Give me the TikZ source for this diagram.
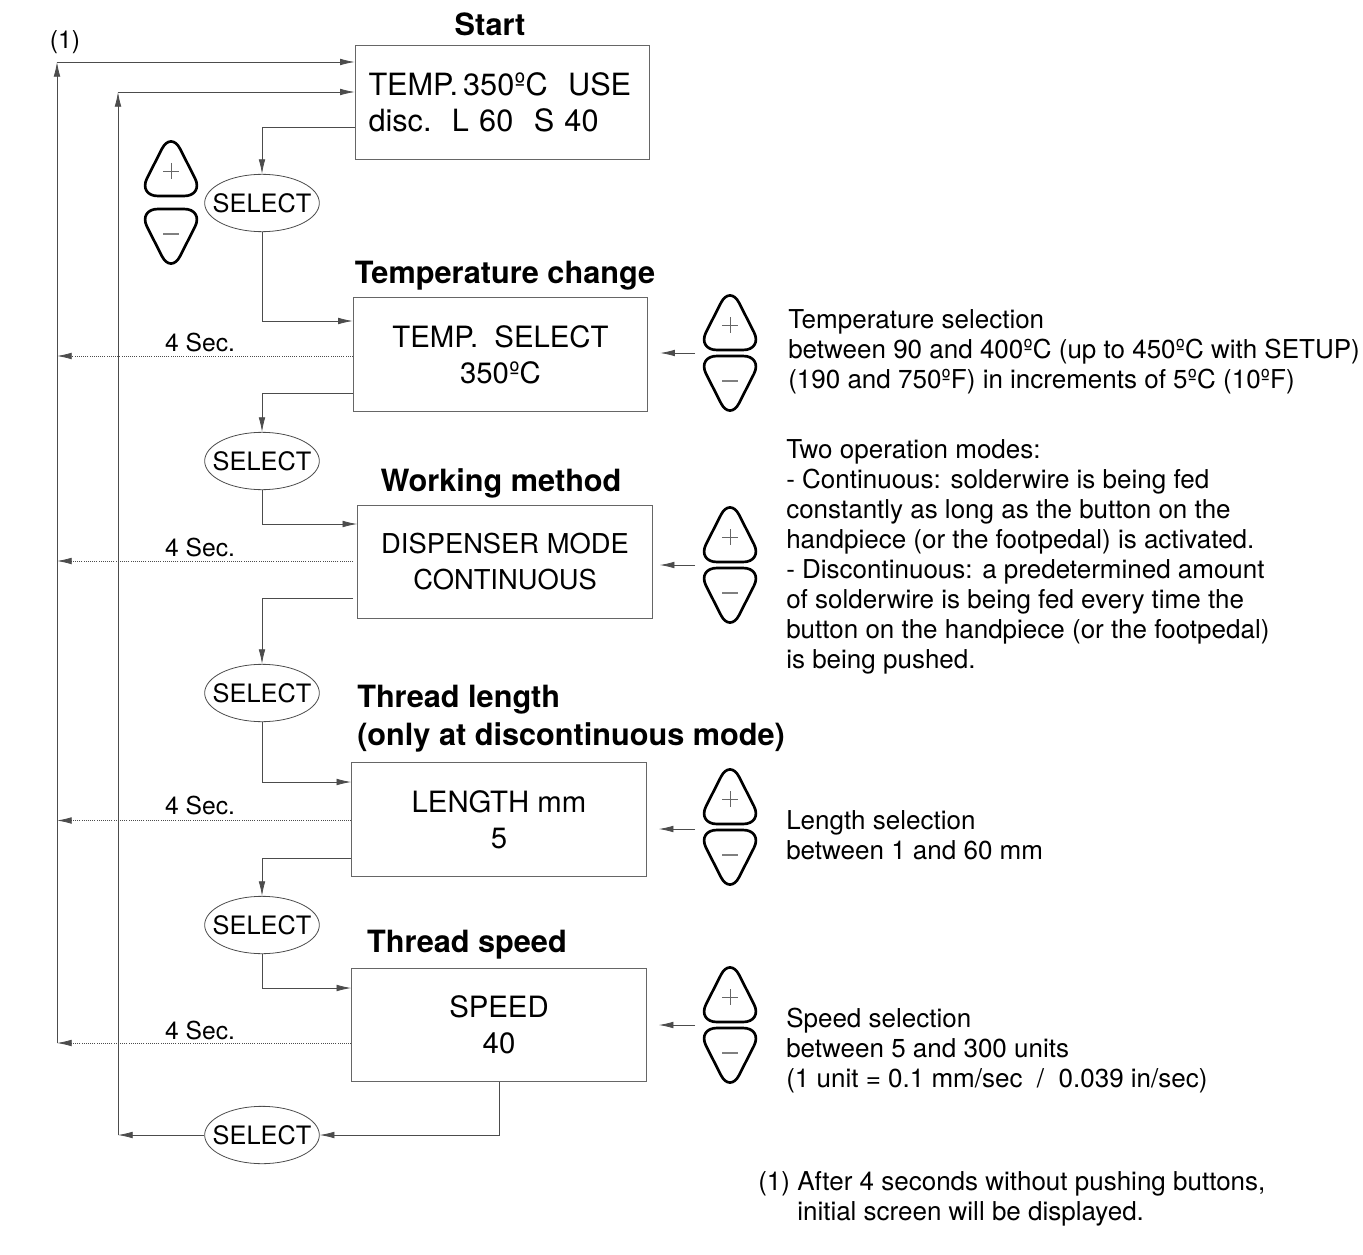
\documentclass[tikz,border=0pt]{standalone}
\usepackage{fontspec}
\setmainfont{TeX Gyre Heros}
\usetikzlibrary{shapes.geometric,arrows.meta,calc}
\begin{document}
\begin{tikzpicture}[x=0.75pt,y=-0.75pt,
  box/.style={draw=black!60,line width=0.7pt,rectangle,minimum width=221pt,minimum height=85pt,align=center,font=\fontsize{22}{27}\selectfont,inner sep=0pt},
  sel/.style={draw=black!70,line width=0.6pt,ellipse,minimum width=86pt,minimum height=43pt,inner xsep=-12pt,inner ysep=-3pt,font=\fontsize{19}{20}\selectfont},
  ttl/.style={font=\fontsize{23}{27}\selectfont\bfseries,inner sep=0pt},
  note/.style={font=\fontsize{19.5}{22.5}\selectfont,align=left,anchor=north west,inner sep=0pt},
  lab/.style={font=\fontsize{18.5}{20}\selectfont,inner sep=0pt},
  con/.style={draw=black!70,line width=0.6pt},
  arr/.style={con,-{Latex[length=11pt,width=5pt]}},
  dot/.style={arr,densely dotted},
  btnup/.pic={\draw[line width=2pt,rounded corners=15pt,fill=white] (0,-38)--(33,27)--(-33,27)--cycle;
     \draw[black!60,line width=0.5pt] (-8,2)--(8,2) (0,-6)--(0,10);},
  btndn/.pic={\draw[line width=2pt,rounded corners=15pt,fill=white] (0,38)--(33,-27)--(-33,-27)--cycle;
     \draw[black!50,line width=1.6pt] (-8,-2)--(8,-2);}
]
\useasboundingbox (0,0) rectangle (1363,1255);
% boxes
\node[box,align=left,text width=201pt,font=\fontsize{23}{27}\selectfont] (start) at (502.5,102.5) {TEMP.\,350ºC\ \ USE\\disc.\ \ L 60\ \ S 40};
\node[box] (temp) at (500.5,354.5) {TEMP.\ \ SELECT\\350ºC};
\node[box,font=\fontsize{20.5}{27}\selectfont] (work) at (505,562) {DISPENSER MODE\\CONTINUOUS};
\node[box] (len) at (499,819.5) {LENGTH mm\\5};
\node[box] (spd) at (499,1025) {SPEED\\40};
% titles
\node[ttl] at (490,24) {Start};
\node[ttl] at (505,276) {Temperature change};
\node[ttl] at (501,483) {Working method};
\node[ttl,anchor=west] at (357,700) {Thread length};
\node[ttl,anchor=west] at (357,737) {(only at discontinuous mode)};
\node[ttl] at (467,945) {Thread speed};
% select ellipses
\node[sel] (s1) at (262,203) {SELECT};
\node[sel] (s2) at (262,461) {SELECT};
\node[sel] (s3) at (262,693) {SELECT};
\node[sel] (s4) at (262,925) {SELECT};
\node[sel] (s5) at (262,1135) {SELECT};
% buttons
\pic at (171,169) {btnup}; \pic at (171,236) {btndn};
\foreach \y in {323,535,797,995} {\pic at (730,\y) {btnup}; \pic at (730,\y+60) {btndn};}
% coordinates
\coordinate (L) at (57,62);
\coordinate (M) at (118,92);
\coordinate (b1) at (695,353); \coordinate (b2) at (695,565);
\coordinate (b3) at (695,829); \coordinate (b4) at (695,1025);
\coordinate (a1) at ($(start.west)+(0,24.5)$);
\coordinate (a2) at ($(temp.west)+(0,-33.5)$);
\coordinate (a3) at ($(temp.west)+(0,38.5)$);
\coordinate (a4) at ($(work.west)+(0,-38)$);
\coordinate (a5) at ($(work.west)+(-4,36)$);
\coordinate (a6) at ($(len.west)+(0,-37.5)$);
\coordinate (a7) at ($(len.west)+(0,38.5)$);
\coordinate (a8) at ($(spd.west)+(0,-37)$);
\coordinate (d1) at ($(temp.west)+(0,1.5)$);
\coordinate (d2) at ($(work.west)+(-4,-1)$);
\coordinate (d3) at ($(len.west)+(0,1)$);
\coordinate (d4) at ($(spd.west)+(0,18)$);
\coordinate (e1) at ($(b1 -| temp.east)+(12,0)$);
\coordinate (e2) at ($(b2 -| work.east)+(7,0)$);
\coordinate (e3) at ($(b3 -| len.east)+(12,0)$);
\coordinate (e4) at ($(b4 -| spd.east)+(12,0)$);
% select chain
\draw[arr] (a1) -| (s1.north);
\draw[arr] (s1.south) |- (a2);
\draw[arr] (a3) -| (s2.north);
\draw[arr] (s2.south) |- (a4);
\draw[arr] (a5) -| (s3.north);
\draw[arr] (s3.south) |- (a6);
\draw[arr] (a7) -| (s4.north);
\draw[arr] (s4.south) |- (a8);
\draw[arr] (spd.south) |- (s5.east);
\draw[arr] (s5.west) -- (s5.west -| M);
\draw[arr] (s5.west -| M) -- (M);
\draw[arr] (M) -- (M -| start.west);
% timeout loop
\draw[arr] (d4 -| L) -- (L);
\draw[arr] (L) -- (L -| start.west);
\node[lab] at (65,42) {(1)};
\foreach \d in {d1,d2,d3,d4} \draw[dot] (\d) -- (\d -| L);
\node[lab] at (200,343) {4 Sec.};
\node[lab] at (200,548) {4 Sec.};
\node[lab] at (200,806) {4 Sec.};
\node[lab] at (200,1030) {4 Sec.};
% button arrows
\draw[arr] (b1) -- (e1);
\draw[arr] (b2) -- (e2);
\draw[arr] (b3) -- (e3);
\draw[arr] (b4) -- (e4);
% notes
\node[note] at (788,309) {Temperature selection\\between 90 and 400ºC (up to 450ºC with SETUP)\\(190 and 750ºF) in increments of 5ºC (10ºF)};
\node[note] at (786,439) {Two operation modes:\\- Continuous: solderwire is being fed\\constantly as long as the button on the\\handpiece (or the footpedal) is activated.\\- Discontinuous: a predetermined amount\\of solderwire is being fed every time the\\button on the handpiece (or the footpedal)\\is being pushed.};
\node[note] at (786,810) {Length selection\\between 1 and 60 mm};
\node[note] at (786,1008) {Speed selection\\between 5 and 300 units\\(1 unit = 0.1 mm/sec\ \ /\ \ 0.039 in/sec)};
\node[note] at (758,1171) {(1) After 4 seconds without pushing buttons,\\\phantom{(1) }initial screen will be displayed.};
\end{tikzpicture}
\end{document}
